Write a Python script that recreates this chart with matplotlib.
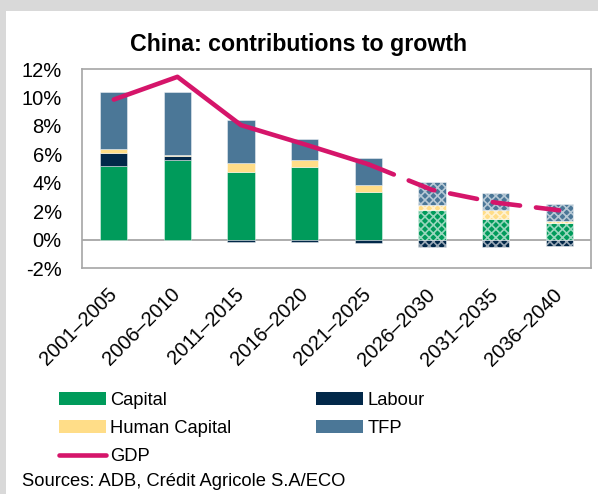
import matplotlib
matplotlib.use("Agg")
import matplotlib.pyplot as plt
from matplotlib.patches import Patch, Rectangle
from matplotlib.lines import Line2D
import numpy as np

plt.rcParams['font.family'] = ['Liberation Sans', 'DejaVu Sans']
plt.rcParams['hatch.linewidth'] = 1.2

# Growth contributions by period (percentage points)
categories = ['2001–2005', '2006–2010', '2011–2015', '2016–2020',
              '2021–2025', '2026–2030', '2031–2035', '2036–2040']
capital = [5.2, 5.6, 4.77, 5.1, 3.36, 2.06, 1.46, 1.18]
labour = [0.9, 0.28, -0.16, -0.15, -0.23, -0.54, -0.54, -0.42]
human_capital = [0.25, 0.1, 0.63, 0.5, 0.5, 0.4, 0.6, 0.16]
tfp = [4.0, 4.43, 3.0, 1.46, 1.85, 1.62, 1.23, 1.17]
gdp = [9.85, 11.45, 8.05, 6.7, 5.3, 3.5, 2.6, 2.06]
n_actual = 5  # periods up to 2025 are observed, the rest are projections

series = [
    ('Capital', capital, '#009B5B'),
    ('Labour', labour, '#022849'),
    ('Human Capital', human_capital, '#FFDD88'),
    ('TFP', tfp, '#4B7797'),
]
gdp_color = '#D5156A'

fig = plt.figure(figsize=(5.98, 4.94), dpi=100, facecolor='#D9D9D9')
fig.patches.append(Rectangle((6 / 598, 0), 1, (494 - 11) / 494,
                             transform=fig.transFigure, facecolor='white',
                             edgecolor='none', zorder=-5))

ax = fig.add_axes([82 / 598, 226 / 494, 509 / 598, 199 / 494])
ax.set_zorder(2)
x = np.arange(len(categories))
width = 0.43

pos_base = np.zeros(len(categories))
neg_base = np.zeros(len(categories))
for name, vals, col in series:
    vals = np.asarray(vals, dtype=float)
    bottoms = np.where(vals >= 0, pos_base, neg_base)
    for i in range(len(categories)):
        projected = i >= n_actual
        ax.bar(x[i], vals[i], width, bottom=bottoms[i], color=col,
               edgecolor=(1, 1, 1, 0.6) if projected else (1, 1, 1, 0.5),
               linewidth=0.6, hatch='xxxx' if projected else None, zorder=2)
    pos_base += np.where(vals >= 0, vals, 0)
    neg_base += np.where(vals < 0, vals, 0)

ax.axhline(0, color='#A6A6A6', linewidth=1.3, zorder=1)

ax.plot(x[:n_actual], gdp[:n_actual], color=gdp_color, linewidth=3.3,
        solid_capstyle='round', solid_joinstyle='round', zorder=3)
ax.plot(x[n_actual - 1:], gdp[n_actual - 1:], color=gdp_color, linewidth=3.3,
        linestyle=(0, (6, 3.5)), dash_capstyle='round', zorder=3)

ax.set_xlim(-0.5, len(categories) - 0.5)
ax.set_ylim(-2, 12)
ax.set_yticks(np.arange(-2, 13, 2))
ax.set_yticklabels([f'{v}%' for v in range(-2, 13, 2)])
ax.set_xticks(x)
ax.set_xticklabels(categories, rotation=45, ha='right', va='center',
                   rotation_mode='anchor')
ax.tick_params(axis='y', length=0, pad=14.5, labelsize=14.5)
ax.tick_params(axis='x', length=0, pad=17, labelsize=14.5)
for sp in ax.spines.values():
    sp.set_color('#A6A6A6')
    sp.set_linewidth(1.2)

fig.text(0.5, (494 - 50.5) / 494, 'China: contributions to growth',
         ha='center', va='baseline', fontsize=16.7, fontweight='bold')

handles = [
    Patch(facecolor=series[0][2], edgecolor='none', label='Capital'),
    Patch(facecolor=series[2][2], edgecolor='none', label='Human Capital'),
    Line2D([0], [0], color=gdp_color, linewidth=3.3, solid_capstyle='round',
           label='GDP'),
    Patch(facecolor=series[1][2], edgecolor='none', label='Labour'),
    Patch(facecolor=series[3][2], edgecolor='none', label='TFP'),
]
fig.legend(handles=handles, loc='upper left',
           bbox_to_anchor=(59 / 598, (494 - 392) / 494), ncol=2,
           frameon=False, fontsize=13.2, handlelength=2.55, handleheight=0.7,
           handletextpad=0.25, labelspacing=0.6, columnspacing=4.6,
           borderpad=0, borderaxespad=0)

fig.text(22 / 598, (494 - 481) / 494, 'Sources: ADB, Crédit Agricole S.A/ECO',
         ha='left', va='center', fontsize=13.2)

fig.savefig('out.png', dpi=100, facecolor=fig.get_facecolor())
